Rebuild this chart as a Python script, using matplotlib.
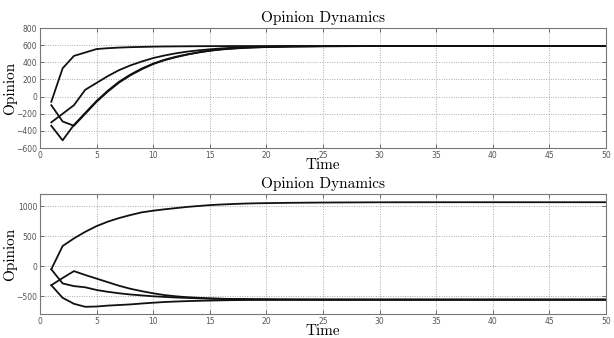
import matplotlib
matplotlib.use("Agg")
import matplotlib.pyplot as plt

# ---- data ----
time = [1, 2, 3, 4, 5, 6, 7, 8, 9, 10, 11, 12, 13, 14, 15, 16, 17, 18, 19, 20,
        22, 25, 30, 35, 40, 45, 50]

top_a = [-60, 330, 475, 515, 555, 565, 572, 577, 580, 583, 585, 586, 587, 588, 589, 589, 590, 590, 590, 590,
         590, 590, 590, 590, 590, 590, 590]
top_b = [-100, -290, -340, -200, -60, 60, 165, 250, 320, 380, 425, 460, 490, 515, 535, 550, 560, 568, 574, 578,
         584, 588, 590, 590, 590, 590, 590]
top_c = [-300, -200, -100, 80, 160, 240, 310, 365, 410, 450, 480, 505, 525, 540, 552, 562, 570, 575, 580, 583,
         586, 589, 590, 590, 590, 590, 590]
top_d = [-340, -510, -330, -190, -50, 70, 175, 258, 328, 385, 430, 465, 493, 517, 537, 552, 562, 570, 575, 579,
         585, 588, 590, 590, 590, 590, 590]

bot_a = [-55, 333, 460, 570, 665, 740, 800, 850, 895, 922, 945, 965, 985, 1000, 1015, 1025, 1033, 1040, 1045, 1048,
         1053, 1058, 1062, 1063, 1063, 1063, 1063]
bot_b = [-55, -290, -335, -355, -400, -430, -455, -475, -490, -505, -515, -525, -532, -538, -543, -547, -550, -552, -554, -556,
         -558, -560, -561, -561, -561, -561, -561]
bot_c = [-320, -200, -85, -150, -210, -270, -330, -380, -420, -455, -485, -505, -520, -530, -540, -546, -550, -553, -555, -557,
         -559, -560, -561, -561, -561, -561, -561]
bot_d = [-320, -530, -630, -680, -675, -660, -650, -640, -625, -612, -600, -592, -585, -580, -576, -572, -569, -567, -565, -564,
         -563, -562, -561, -561, -561, -561, -561]

top_yticks = [-600, -400, -200, 0, 200, 400, 600, 800]
bot_yticks = [-500, 0, 500, 1000]
xticks = [0, 5, 10, 15, 20, 25, 30, 35, 40, 45, 50]

title = "Opinion Dynamics"
xlabel = "Time"
ylabel = "Opinion"

# ---- drawing ----
fig = plt.figure(figsize=(6.14, 3.38), dpi=100)
ax1 = fig.add_axes([0.0651, 0.562, 0.922, 0.355])
ax2 = fig.add_axes([0.0651, 0.071, 0.922, 0.355])

serif = dict(family="cmr10", size=11)

def style(ax, yticks, ylim):
    ax.set_xlim(0, 50)
    ax.set_ylim(*ylim)
    ax.set_xticks(xticks)
    ax.set_yticks(yticks)
    ax.grid(True, linestyle=(0, (1, 1.5)), color="#aaaaaa", linewidth=0.7)
    ax.tick_params(direction="in", top=True, right=True, labelsize=5.5,
                   colors="#555555", length=3, width=0.6, pad=2)
    for s in ax.spines.values():
        s.set_color("#777777")
        s.set_linewidth(0.8)
    ax.set_title(title, fontdict=serif, pad=4)
    ax.set_xlabel(xlabel, fontdict=serif, labelpad=-1)
    ax.set_ylabel(ylabel, fontdict=serif, labelpad=-1)

for s in (top_a, top_b, top_c, top_d):
    ax1.plot(time, s, color="#111111", linewidth=1.3)
for s in (bot_a, bot_b, bot_c, bot_d):
    ax2.plot(time, s, color="#111111", linewidth=1.3)

style(ax1, top_yticks, (-600, 800))
style(ax2, bot_yticks, (-800, 1200))

fig.savefig("out.png", dpi=100)
